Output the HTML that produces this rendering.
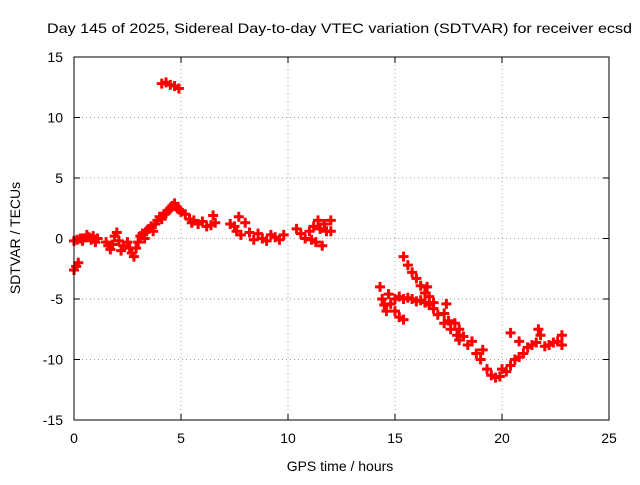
<!DOCTYPE html>
<html><head><meta charset="utf-8"><style>
body{margin:0;background:#fff}
svg{font-family:"Liberation Sans",sans-serif;font-size:14px}
</style></head><body>
<svg width="640" height="480">
<rect x="0" y="0" width="640" height="480" fill="#fff"/>
<text x="47" y="33" textLength="585" lengthAdjust="spacingAndGlyphs">Day 145 of 2025, Sidereal Day-to-day VTEC variation (SDTVAR) for receiver ecsd</text>
<g id="grid"></g>
<g id="ticks"></g>
<g id="marks"></g>
<rect x="74" y="57" width="535" height="363" fill="none" stroke="#000"/>
<text x="340" y="471" text-anchor="middle">GPS time / hours</text>
<text transform="translate(20,238) rotate(-90)" text-anchor="middle">SDTVAR / TECUs</text>
</svg>
<script>
const xTicks=[0,5,10,15,20,25];
const yTicks=[-15,-10,-5,0,5,10,15];
const times=[0.0,0.1,0.2,0.0,0.15,0.3,0.4,0.6,0.7,0.8,0.9,1.0,1.1,
1.5,1.6,1.7,1.8,1.9,2.0,2.1,2.2,2.3,2.5,2.6,2.7,2.8,2.9,3.0,3.1,3.2,3.3,3.4,3.5,3.6,3.7,3.8,3.9,4.0,4.1,4.2,4.3,4.4,4.5,4.6,4.7,4.8,4.9,5.0,5.2,5.4,5.5,5.6,5.8,6.0,6.2,6.4,6.6,6.5,7.3,7.5,7.6,7.8,7.7,8.0,8.2,8.4,8.6,8.8,9.0,9.2,9.4,9.6,9.8,10.4,10.6,10.8,11.0,11.1,11.2,11.3,11.4,11.5,11.6,11.7,11.8,12.0,12.0,
4.1,4.3,4.5,4.7,4.9,
14.3,14.4,14.5,14.6,14.7,14.8,15.0,15.2,15.4,15.0,15.2,15.4,15.6,15.8,16.0,16.2,16.4,16.6,16.8,15.4,15.6,15.8,16.0,16.2,16.4,16.6,16.8,16.5,
17.4,17.3,17.5,17.6,17.8,17.9,18.0,18.2,18.4,18.6,18.8,19.0,19.1,19.3,19.5,19.7,19.9,20.0,20.2,20.4,20.6,20.8,21.0,21.2,21.4,21.6,21.8,21.7,22.0,22.2,22.4,22.6,22.8,22.8,20.4,20.8,17.0,17.3,18.0];
const values=[-2.6,-2.3,-2.0,-0.2,-0.1,0.0,-0.2,0.3,0.1,-0.1,0.2,-0.3,0.0,
-0.3,-0.6,-0.9,-0.5,0.2,0.5,-0.2,-1.0,-0.6,-0.3,-0.8,-1.2,-1.5,-0.8,-0.3,0.2,0.4,0.0,0.6,0.8,1.0,0.6,1.2,1.5,1.8,1.6,2.0,2.1,2.3,2.5,2.7,2.9,2.6,2.4,2.2,2.0,1.6,1.3,1.5,1.2,1.4,1.0,1.1,1.3,1.9,1.2,1.0,0.6,0.3,1.8,1.3,0.5,-0.1,0.4,0.0,-0.2,0.3,0.1,-0.1,0.3,0.8,0.4,0.0,0.6,-0.1,1.0,-0.3,1.5,0.8,-0.6,1.2,0.6,0.6,1.5,
12.8,12.9,12.7,12.6,12.4,
-4.0,-5.0,-5.5,-6.0,-4.6,-5.4,-6.0,-6.5,-6.7,-5.0,-4.8,-5.0,-4.9,-5.0,-5.2,-5.1,-5.3,-5.5,-5.8,-1.5,-2.2,-2.8,-3.3,-3.9,-4.5,-4.8,-5.3,-4.0,
-5.4,-6.2,-6.8,-7.5,-7.0,-8.0,-8.4,-8.1,-8.8,-8.5,-9.5,-10.0,-9.2,-10.8,-11.3,-11.5,-11.4,-10.8,-11.0,-10.5,-10.0,-9.8,-9.5,-9.0,-8.8,-8.6,-8.0,-7.5,-8.9,-8.8,-8.6,-8.5,-8.0,-8.8,-7.8,-8.5,-6.3,-7.0,-7.5];
const X=t=>74+t*535/25, Y=v=>238.5-v*363/30;
const NS="http://www.w3.org/2000/svg";
const grid=document.getElementById('grid'),ticks=document.getElementById('ticks'),marks=document.getElementById('marks');
function mk(tag,at,parent){const e=document.createElementNS(NS,tag);for(const k in at)e.setAttribute(k,at[k]);parent.appendChild(e);return e;}
xTicks.forEach(t=>{const x=X(t);
 if(t>0&&t<25){const g=mk('line',{x1:x,y1:57,x2:x,y2:420,stroke:'#a0a0a0','stroke-dasharray':'1,3'},grid);
 
 }
 mk('line',{x1:x,y1:420,x2:x,y2:414,stroke:'#000'},ticks);mk('line',{x1:x,y1:57,x2:x,y2:63,stroke:'#000'},ticks);
 const l=mk('text',{x:x,y:443,'text-anchor':'middle'},ticks);l.textContent=t;
 
 });
yTicks.forEach(v=>{const y=Y(v);
 if(v>-15&&v<15){const g=mk('line',{x1:74,y1:y,x2:609,y2:y,stroke:'#a0a0a0','stroke-dasharray':'1,3'},grid);
 
 }
 mk('line',{x1:74,y1:y,x2:80,y2:y,stroke:'#000'},ticks);mk('line',{x1:609,y1:y,x2:603,y2:y,stroke:'#000'},ticks);
 const l=mk('text',{x:63,y:y+5,'text-anchor':'end'},ticks);l.textContent=v;
 
 });
times.forEach((t,i)=>{const x=X(t),y=Y(values[i]);
 const p=mk('path',{d:`M${x-5},${y}H${x+5}M${x},${y-5}V${y+5}`,stroke:'#f00','stroke-width':3},marks);
 
 });
</script>
</body></html>
